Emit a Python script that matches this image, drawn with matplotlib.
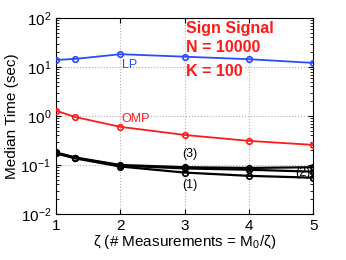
import matplotlib
matplotlib.use('Agg')
import matplotlib.pyplot as plt

plt.rcParams['font.family'] = ['Liberation Sans', 'DejaVu Sans']
plt.rcParams['mathtext.fontset'] = 'custom'
plt.rcParams['mathtext.rm'] = 'Liberation Sans'
plt.rcParams['mathtext.it'] = 'Liberation Sans'

# Data
zeta = [1, 1.3, 2, 3, 4, 5]
lp = [13.9, 14.6, 18.2, 16.2, 14.4, 12.1]
omp = [1.28, 0.95, 0.60, 0.41, 0.31, 0.257]
line3 = [0.180, 0.142, 0.100, 0.090, 0.087, 0.090]
line2 = [0.176, 0.140, 0.097, 0.085, 0.080, 0.073]
line1 = [0.172, 0.136, 0.093, 0.070, 0.060, 0.055]

fig = plt.figure(figsize=(3.46, 2.60), dpi=100)
ax = fig.add_axes([0.162, 0.177, 0.743, 0.754])

mk = dict(marker='o', markersize=4, markerfacecolor='none', markeredgewidth=1.2)
ax.plot(zeta, lp, color='#2b4bff', lw=1.3, zorder=3, **mk)
ax.plot(zeta, omp, color='#ff1a1a', lw=1.3, zorder=3, **mk)
for ys in (line3, line2, line1):
    ax.plot(zeta, ys, color='black', lw=1.6, zorder=3, **mk)

ax.set_yscale('log')
ax.set_xlim(1, 5)
ax.set_ylim(1e-2, 1e2)
ax.set_xticks([1, 2, 3, 4, 5])
ax.set_yticks([1e-2, 1e-1, 1e0, 1e1, 1e2])
ax.grid(True, which='major', linestyle=':', color='#b0b0b0', linewidth=0.8)
ax.tick_params(which='both', direction='in', top=True, right=True, labelsize=11)
ax.set_ylabel('Median Time (sec)', fontsize=11, labelpad=1)
ax.set_xlabel('ζ (# Measurements = M$_0$/ζ)', fontsize=11, labelpad=0)

ax.text(2.02, 9.4, 'LP', color='#2b4bff', fontsize=9, va='baseline', ha='left')
ax.text(2.02, 0.743, 'OMP', color='#ff1a1a', fontsize=9, va='baseline', ha='left')
ax.text(3.086, 0.169, '(3)', color='black', fontsize=9, ha='center', va='center')
ax.text(3.086, 0.039, '(1)', color='black', fontsize=9, ha='center', va='center')
ax.text(4.84, 0.069, '(2)', color='black', fontsize=9, ha='center', va='center',
        zorder=2)

info_lines = ['Sign Signal', 'N = 10000', 'K = 100']
info_y = [50.1, 20.5, 6.64]
for s, yv in zip(info_lines, info_y):
    ax.text(3.02, yv, s, color='#ff1a1a', fontsize=11.5, fontweight='bold',
            ha='left', va='baseline')

fig.savefig('out.png', dpi=100)
